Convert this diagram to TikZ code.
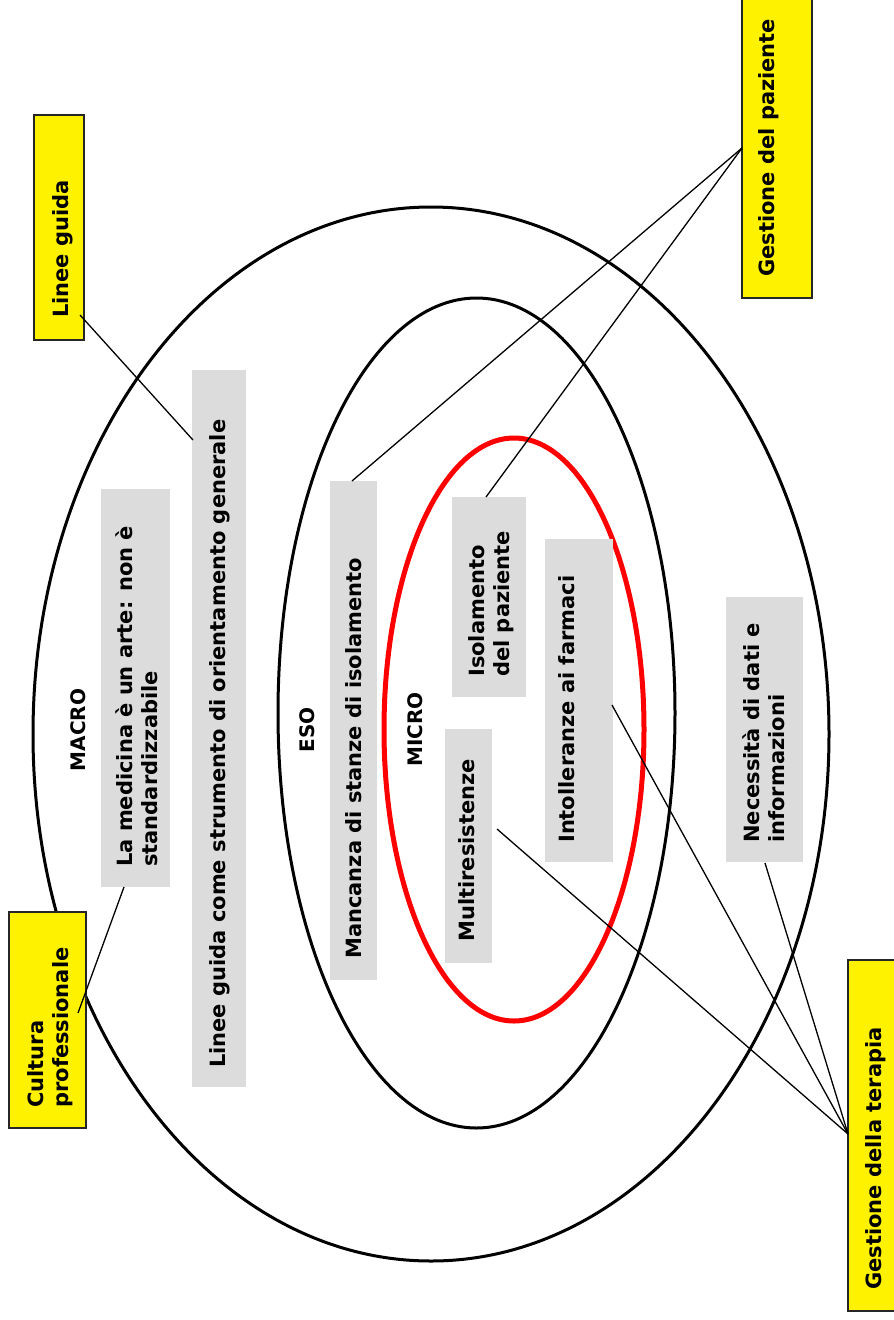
\documentclass[tikz,border=0pt]{standalone}
\usepackage{fontspec}
\newfontfamily\dv{DejaVu Sans}
\definecolor{boxgray}{HTML}{DCDCDC}
\definecolor{ringred}{HTML}{FF0000}
\begin{document}
\begin{tikzpicture}[x=1pt,y=-1pt,
  ybox/.style={rectangle, fill=yellow, draw=black!85, line width=1.3pt, rotate=90, inner sep=0pt, outer sep=0pt},
  gbox/.style={rectangle, fill=boxgray, rotate=90, inner sep=0pt, outer sep=0pt},
  txt/.style={rotate=90, inner sep=0pt, anchor=north west, align=left, font=\dv\bfseries\fontsize{21}{25}\selectfont},
  lvl/.style={rotate=90, inner sep=0pt, anchor=center, font=\dv\bfseries\fontsize{20}{24}\selectfont},
  ring/.style={line width=3pt},
  conn/.style={line width=1.3pt}]
\useasboundingbox (0,0) rectangle (894,1320);
\fill[white] (0,0) rectangle (894,1320);

% rings
\draw[ring] (431,734) ellipse [x radius=398pt, y radius=527pt];
\draw[ring] (476.5,713) ellipse [x radius=198.5pt, y radius=415pt];
\draw[line width=5pt, ringred] (514,729.5) ellipse [x radius=130pt, y radius=291.5pt];

% level labels
\node[lvl] (macro) at (78.5,730) {MACRO};
\node[lvl] (eso) at (307.5,730) {ESO};
\node[lvl] (micro) at (415,729.5) {MICRO};

% grey boxes
\node[gbox, minimum width=398pt, minimum height=69pt] (g1) at (135.5,688) {};
\node[gbox, minimum width=717pt, minimum height=54pt] (g2) at (219,728.5) {};
\node[gbox, minimum width=499pt, minimum height=47pt] (g3) at (353.5,730.5) {};
\node[gbox, minimum width=200pt, minimum height=74pt] (g4) at (489,597) {};
\node[gbox, minimum width=234pt, minimum height=47pt] (g5) at (468.5,846) {};
\node[gbox, minimum width=323pt, minimum height=68pt] (g6) at (579,700.5) {};
\node[gbox, minimum width=265pt, minimum height=77pt] (g7) at (764.5,729.5) {};

\node[txt] (t1) at (116,867) {La medicina è un arte: non è\\standardizzabile};
\node[txt] (t2) at (209,1068) {Linee guida come strumento di orientamento generale};
\node[txt] (t3) at (345,959) {Mancanza di stanze di isolamento};
\node[txt] (t4) at (468,677) {Isolamento\\del paziente};
\node[txt] (t5) at (458,942) {Multiresistenze};
\node[txt] (t6) at (558,843) {Intolleranze ai farmaci};
\node[txt] (t7) at (742,843) {Necessità di dati e\\informazioni};

% yellow boxes
\node[ybox, minimum width=225pt, minimum height=50pt] (y1) at (59,227.5) {};
\node[ybox, minimum width=216pt, minimum height=77pt] (y2) at (47.5,1020) {};
\node[ybox, minimum width=308pt, minimum height=70pt] (y3) at (777,144) {};
\node[ybox, minimum width=351pt, minimum height=54pt] (y4) at (875,1135.5) {};

\node[txt] (ty1) at (52,318) {Linee guida};
\node[txt] (ty2) at (27,1108) {Cultura\\professionale};
\node[txt] (ty3) at (758,277) {Gestione del paziente};
\node[txt] (ty4) at (865,1290) {Gestione della terapia};

% connector end points
\coordinate (c-y1) at (80,315);
\coordinate (c-g2) at (193,440);
\coordinate (c-y2) at (78,1013);
\coordinate (c-g1) at (124,887);
\coordinate (c-y3) at (742,148);
\coordinate (c-g3) at (352,481);
\coordinate (c-g4) at (486,497);
\coordinate (c-y4) at (848,1134);
\coordinate (c-g5) at (497,829);
\coordinate (c-g6) at (612,705);
\coordinate (c-g7) at (765,863);

\draw[conn] (c-y1) -- (c-g2);
\draw[conn] (c-y2) -- (c-g1);
\draw[conn] (c-y3) -- (c-g3);
\draw[conn] (c-y3) -- (c-g4);
\draw[conn] (c-y4) -- (c-g5);
\draw[conn] (c-y4) -- (c-g6);
\draw[conn] (c-y4) -- (c-g7);
\end{tikzpicture}
\end{document}
